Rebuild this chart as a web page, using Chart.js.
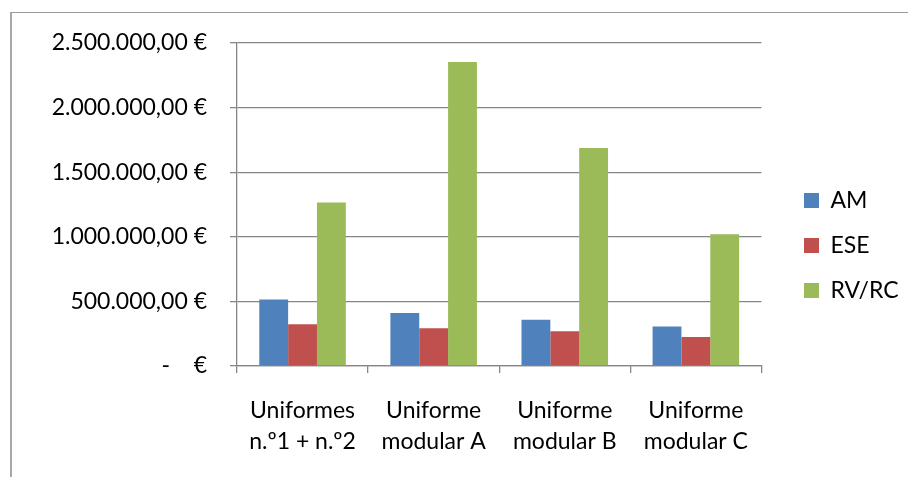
<!DOCTYPE html>
<html>
<head>
<meta charset="utf-8">
<script src="https://cdn.jsdelivr.net/npm/chart.js@4.4.1/dist/chart.umd.min.js"></script>
<style>
  html, body { margin: 0; padding: 0; background: #fff; }
  #wrap { position: relative; width: 908px; height: 477px; }
  #frame { position: absolute; left: 10px; top: 12px; right: 0; bottom: 0;
           border-top: 1px solid #9a9a9a; border-left: 2px solid #a8a8a8; pointer-events: none; }
  canvas { position: absolute; left: 0; top: 0; }
</style>
</head>
<body>
<div id="wrap">
  <canvas id="chart" width="908" height="477"></canvas>
  <div id="frame"></div>
</div>
<script>
var categories = [
    ["Uniformes", "n.º1 + n.º2"],
    ["Uniforme", "modular A"],
    ["Uniforme", "modular B"],
    ["Uniforme", "modular C"]
];
var amValues = [515000, 410000, 358000, 306000];
var eseValues = [323000, 292000, 269000, 225000];
var rvrcValues = [1265000, 2352000, 1688000, 1020000];
var yTickLabels = ["-    €", "500.000,00 €", "1.000.000,00 €", "1.500.000,00 €", "2.000.000,00 €", "2.500.000,00 €"];

var FONT = "Lato";
var FSIZE = 23;

// put the legend where Excel puts it
var legendPlace = {
    id: "legendPlace",
    afterLayout: function (chart) {
        var lg = chart.legend;
        var w = lg.width, h = lg.height;
        lg.left = 782; lg.right = lg.left + w;
        lg.top = 167; lg.bottom = lg.top + h;
    }
};

new Chart(document.getElementById("chart"), {
    type: "bar",
    data: {
        labels: categories,
        datasets: [
            { label: "AM", data: amValues, backgroundColor: "#4F81BD" },
            { label: "ESE", data: eseValues, backgroundColor: "#C0504D" },
            { label: "RV/RC", data: rvrcValues, backgroundColor: "#9BBB59" }
        ]
    },
    options: {
        responsive: false,
        animation: false,
        layout: { padding: { top: 43, left: 0, right: 20, bottom: 0 } },
        datasets: { bar: { categoryPercentage: 0.66, barPercentage: 1.0 } },
        plugins: {
            tooltip: { enabled: false },
            legend: {
                position: "right",
                align: "start",
                labels: {
                    boxWidth: 15,
                    boxHeight: 15,
                    padding: 22,
                    color: "#000",
                    font: { family: FONT, size: FSIZE }
                }
            }
        },
        scales: {
            x: {
                afterFit: function (s) { s.height = 111; },
                grid: { display: true, drawOnChartArea: false, drawTicks: true, tickLength: 7, color: "#868686", lineWidth: 1.3 },
                border: { display: true, color: "#868686", width: 1.3 },
                ticks: {
                    color: "#000",
                    padding: 22,
                    maxRotation: 0,
                    autoSkip: false,
                    font: { family: FONT, size: FSIZE, lineHeight: 1.35 }
                }
            },
            y: {
                min: 0,
                max: 2500000,
                afterFit: function (s) { s.width = 237; },
                grid: { color: "#868686", lineWidth: 1.3, tickLength: 7, drawTicks: true },
                border: { display: true, color: "#868686", width: 1.3 },
                ticks: {
                    stepSize: 500000,
                    color: "#000",
                    padding: 23,
                    font: { family: FONT, size: FSIZE },
                    callback: function (v, i) { return yTickLabels[i]; }
                }
            }
        }
    },
    plugins: [legendPlace]
});
</script>
</body>
</html>
